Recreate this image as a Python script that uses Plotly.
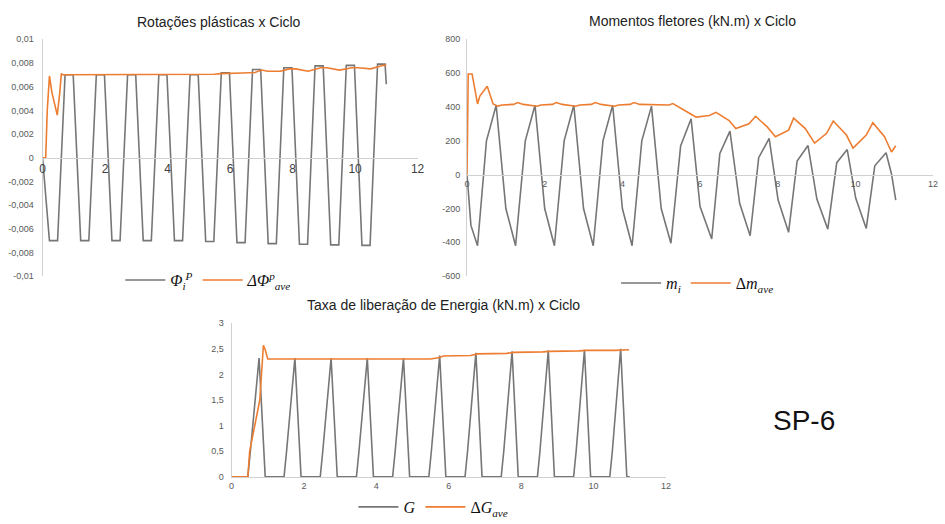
import plotly.graph_objects as go

# ---------------- data ----------------
# Rotações plásticas
phi_x = [0, 0.22, 0.48, 0.72, 0.98,
         1.22, 1.48, 1.72, 1.98,
         2.22, 2.48, 2.72, 2.98,
         3.22, 3.48, 3.72, 3.98,
         4.22, 4.48, 4.72, 4.98,
         5.22, 5.48, 5.72, 5.98,
         6.22, 6.48, 6.72, 6.98,
         7.22, 7.48, 7.72, 7.98,
         8.22, 8.48, 8.72, 8.98,
         9.22, 9.48, 9.72, 9.98,
         10.22, 10.48, 10.72, 10.96, 11.0]
phi_y = [0, -0.007, -0.007, 0.007, 0.007,
         -0.007, -0.007, 0.007, 0.007,
         -0.007, -0.007, 0.007, 0.007,
         -0.007, -0.007, 0.007, 0.007,
         -0.007, -0.007, 0.007, 0.007,
         -0.00707, -0.00707, 0.00717, 0.00717,
         -0.00717, -0.00717, 0.00745, 0.00745,
         -0.00725, -0.00725, 0.0076, 0.0076,
         -0.0073, -0.0073, 0.00775, 0.00775,
         -0.00736, -0.00736, 0.0078, 0.0078,
         -0.0074, -0.0074, 0.0079, 0.0079, 0.0062]
phiave_x = [0, 0.1, 0.15, 0.22, 0.3, 0.4, 0.47, 0.55, 0.6, 0.65, 5.4, 5.5, 5.7,
            6.0, 6.4, 6.8, 7.0, 7.2, 7.6, 7.9, 8.1, 8.5, 8.9, 9.1, 9.5, 9.9,
            10.1, 10.5, 10.9, 11.0]
phiave_y = [0, 0, 0.004, 0.0069, 0.0055, 0.0042, 0.0036, 0.0055, 0.0071, 0.007,
            0.007, 0.00705, 0.0071, 0.0071, 0.00715, 0.0072, 0.0074, 0.0073,
            0.0073, 0.0075, 0.0075, 0.0073, 0.0076, 0.0076, 0.0074, 0.0076,
            0.0076, 0.0075, 0.0078, 0.0078]

# Momentos fletores
m_x = [0, 0.1, 0.27, 0.5, 0.75, 1.0, 1.25, 1.5, 1.75, 2.0, 2.25, 2.5, 2.75,
       3.0, 3.25, 3.5, 3.75, 4.0, 4.25, 4.5, 4.75, 5.0, 5.25, 5.5, 5.77,
       6.0, 6.3, 6.51, 6.77, 7.02, 7.29, 7.51, 7.78, 8.01, 8.28, 8.5, 8.78,
       9.01, 9.29, 9.52, 9.79, 10.01, 10.28, 10.5, 10.79, 10.93, 11.04]
m_y = [0, -300, -420, 200, 410, -200, -420, 200, 410, -200, -420, 200, 410,
       -200, -420, 200, 410, -200, -420, 200, 405, -200, -405, 170, 330,
       -188, -380, 125, 257, -169, -361, 100, 215, -150, -341, 81, 172,
       -146, -322, 71, 148, -140, -318, 52, 129, 4, -150]
mave_x = [0, 0.03, 0.13, 0.27, 0.33, 0.52, 0.67, 0.8, 0.9, 1.2, 1.3, 1.45,
          1.8, 1.9, 2.2, 2.3, 2.45, 2.8, 2.9, 3.2, 3.3, 3.45, 3.8, 3.9, 4.2,
          4.3, 4.45, 4.8, 5.2, 5.3, 5.39, 5.6, 5.75, 5.9, 6.24, 6.41, 6.75,
          6.92, 7.26, 7.43, 7.73, 7.94, 8.28, 8.41, 8.71, 8.95, 9.26, 9.43,
          9.77, 9.94, 10.28, 10.45, 10.75, 10.93, 11.04]
mave_y = [0, 595, 595, 418, 464, 522, 418, 405, 412, 415, 426, 415,
          404, 412, 415, 426, 415, 404, 412, 415, 426, 415, 404, 412, 415,
          426, 415, 412, 412, 420, 407, 380, 360, 340, 349, 368, 320,
          273, 301, 345, 282, 224, 263, 334, 272, 186, 244, 317,
          234, 157, 234, 307, 224, 134, 171]

# Taxa de liberação de energia
g_x = [0, 0.45, 0.52, 0.76, 0.93,
       1.45, 1.52, 1.75, 1.92,
       2.45, 2.52, 2.75, 2.92,
       3.45, 3.52, 3.75, 3.92,
       4.45, 4.52, 4.75, 4.92,
       5.45, 5.52, 5.75, 5.92,
       6.45, 6.52, 6.75, 6.92,
       7.45, 7.52, 7.75, 7.92,
       8.45, 8.52, 8.75, 8.92,
       9.45, 9.52, 9.75, 9.92,
       10.45, 10.52, 10.75, 10.92, 11.0]
g_y = [0, 0, 0.5, 2.32, 0,
       0, 0.5, 2.32, 0,
       0, 0.5, 2.32, 0,
       0, 0.5, 2.32, 0,
       0, 0.5, 2.32, 0,
       0, 0.5, 2.37, 0,
       0, 0.5, 2.42, 0,
       0, 0.5, 2.45, 0,
       0, 0.5, 2.47, 0,
       0, 0.5, 2.48, 0,
       0, 0.5, 2.5, 0, 0]
gave_x = [0, 0.45, 0.5, 0.78, 0.88, 0.93, 1.0, 5.5, 5.75, 5.85, 6.6, 6.8,
          7.6, 7.8, 8.6, 8.8, 9.6, 9.8, 10.6, 10.8, 10.98]
gave_y = [0, 0, 0.5, 1.5, 2.57, 2.48, 2.3, 2.3, 2.33, 2.36, 2.37, 2.4,
          2.41, 2.43, 2.44, 2.45, 2.46, 2.47, 2.47, 2.48, 2.48]

x_ticks = [0, 2, 4, 6, 8, 10, 12]
phi_ticks = [-0.01, -0.008, -0.006, -0.004, -0.002, 0, 0.002, 0.004, 0.006, 0.008, 0.01]
phi_ticktext = ["-0,01", "-0,008", "-0,006", "-0,004", "-0,002", "0",
                "0,002", "0,004", "0,006", "0,008", "0,01"]
m_ticks = [-600, -400, -200, 0, 200, 400, 600, 800]
m_ticktext = ["-600", "-400", "-200", "0", "200", "400", "600", "800"]
g_ticks = [0, 0.5, 1, 1.5, 2, 2.5, 3]
g_ticktext = ["0", "0,5", "1", "1,5", "2", "2,5", "3"]

titles = ["Rotações plásticas x Ciclo",
          "Momentos fletores (kN.m) x Ciclo",
          "Taxa de liberação de Energia (kN.m) x Ciclo"]

GRAY = "#767676"
ORANGE = "#ED7D31"
W, H = 945, 524

def px(v):
    return v / W

def py(v):
    return 1 - v / H

fig = go.Figure()
lw = 1.6
fig.add_trace(go.Scatter(x=phi_x, y=phi_y, mode="lines", line=dict(color=GRAY, width=lw),
                         name="<i>Φ</i><sub><i>i</i></sub><sup><i>P</i></sup>", xaxis="x", yaxis="y", legend="legend"))
fig.add_trace(go.Scatter(x=phiave_x, y=phiave_y, mode="lines", line=dict(color=ORANGE, width=lw),
                         name="<i>ΔΦ</i><sup><i>p</i></sup><sub><i>ave</i></sub>", xaxis="x", yaxis="y", legend="legend"))
fig.add_trace(go.Scatter(x=m_x, y=m_y, mode="lines", line=dict(color=GRAY, width=lw),
                         name="<i>m</i><sub><i>i</i></sub>", xaxis="x2", yaxis="y2", legend="legend2"))
fig.add_trace(go.Scatter(x=mave_x, y=mave_y, mode="lines", line=dict(color=ORANGE, width=lw),
                         name="Δ<i>m</i><sub><i>ave</i></sub>", xaxis="x2", yaxis="y2", legend="legend2"))
fig.add_trace(go.Scatter(x=g_x, y=g_y, mode="lines", line=dict(color=GRAY, width=lw),
                         name="<i>G</i>", xaxis="x3", yaxis="y3", legend="legend3"))
fig.add_trace(go.Scatter(x=gave_x, y=gave_y, mode="lines", line=dict(color=ORANGE, width=lw),
                         name="Δ<i>G</i><sub><i>ave</i></sub>", xaxis="x3", yaxis="y3", legend="legend3"))

tickfont = dict(family="Liberation Sans, Arial", size=9, color="#595959")
axis_common = dict(showgrid=False, zeroline=False, showline=True, linecolor="#d0d0d0",
                   linewidth=1, ticks="", tickfont=tickfont)

top_dom = [py(277), py(35)]
fig.update_layout(
    width=W, height=H, margin=dict(l=0, r=0, t=0, b=0),
    paper_bgcolor="white", plot_bgcolor="white",
    xaxis=dict(domain=[px(40), px(419)], range=[0, 12], tickvals=x_ticks,
               anchor="free", position=py(156), **{**axis_common,
               "tickfont": dict(family="Liberation Sans, Arial", size=12, color="#404040")}),
    yaxis=dict(domain=top_dom, range=[-0.01, 0.01], tickvals=phi_ticks, ticktext=phi_ticktext,
               anchor="x", ticklabelstandoff=6, **axis_common),
    xaxis2=dict(domain=[px(469), px(940)], range=[0, 12], tickvals=x_ticks,
                anchor="free", position=py(174), **axis_common),
    yaxis2=dict(domain=top_dom, range=[-600, 800], tickvals=m_ticks, ticktext=m_ticktext,
                anchor="x2", ticklabelstandoff=4, **axis_common),
    xaxis3=dict(domain=[px(231), px(670)], range=[0, 12], tickvals=x_ticks,
                anchor="y3", **axis_common),
    yaxis3=dict(domain=[py(482), py(325)], range=[0, 3], tickvals=g_ticks, ticktext=g_ticktext,
                anchor="x3", ticklabelstandoff=5, **axis_common),
    showlegend=True,
)

legfont = dict(family="Liberation Serif, DejaVu Serif", size=16, color="#111111")
leg_common = dict(orientation="h", xanchor="center", yanchor="middle",
                  bgcolor="rgba(0,0,0,0)", font=legfont, itemwidth=40)
fig.update_layout(
    legend=dict(x=px(208), y=py(281), **leg_common),
    legend2=dict(x=px(702), y=py(284), **leg_common),
    legend3=dict(x=px(435), y=py(513), **leg_common),
)

title_pos = [(218, 17), (697, 16), (445, 306)]
for t, (tx, ty) in zip(titles, title_pos):
    fig.add_annotation(text=t, x=px(tx), y=py(ty), xref="paper", yref="paper",
                       showarrow=False, xanchor="center", yanchor="middle",
                       font=dict(family="Liberation Sans, Arial", size=14, color="#222222"))

fig.add_annotation(text="SP-6", x=px(810), y=py(424), xref="paper", yref="paper",
                   showarrow=False, xanchor="center", yanchor="middle",
                   font=dict(family="Liberation Sans, Arial", size=28, color="#111111"))

fig.write_html("out.html")
